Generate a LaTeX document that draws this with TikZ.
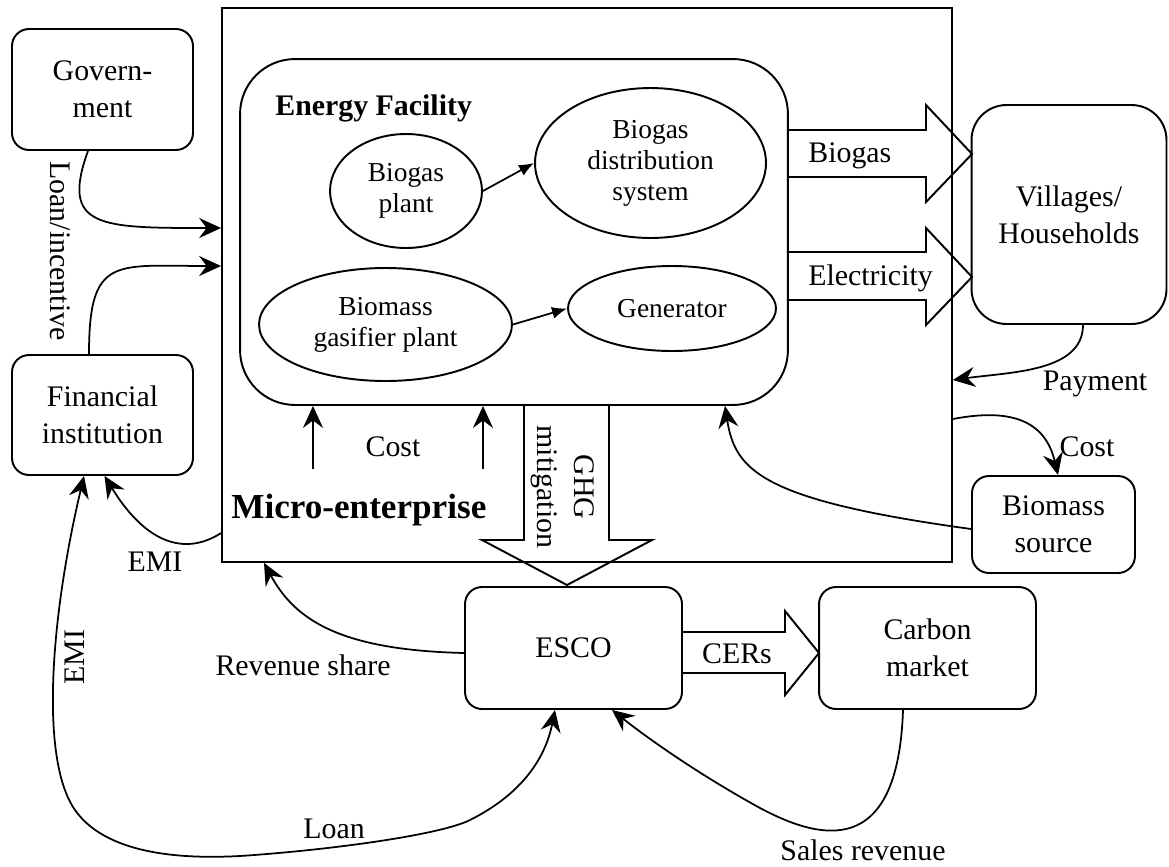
\documentclass[tikz,border=0pt]{standalone}
\usepackage{fontspec}
\setmainfont{Liberation Serif}
\usetikzlibrary{shapes.geometric,arrows.meta,positioning}

\tikzset{
  box/.style={draw, line width=1.1pt, rounded corners=0.34cm, align=center, inner sep=0pt, minimum width=3.62cm, minimum height=2.42cm},
  oval/.style={draw, ellipse, line width=1.1pt, align=center, inner sep=0pt, font=\fontsize{15.6}{17.6}\selectfont},
  flow/.style={line width=1pt, -{Stealth[length=0.44cm, width=0.4cm, inset=0.15cm]}},
  twoway/.style={line width=1pt, {Stealth[length=0.44cm, width=0.4cm, inset=0.15cm]}-{Stealth[length=0.44cm, width=0.4cm, inset=0.15cm]}},
  feed/.style={line width=1pt, -{Latex[length=0.3cm, width=0.24cm]}},
  bigarrow/.style={line width=1.1pt, line join=miter},
  lbl/.style={inner sep=0pt, align=center},
}

\begin{document}
\begin{tikzpicture}[x=0.02cm, y=-0.02cm, font=\fontsize{17}{21}\selectfont]
  \useasboundingbox (0,0) rectangle (1169,866);

  % Micro-enterprise with energy facility inside
  \node[draw, line width=1.1pt, minimum width=14.6cm, minimum height=11.08cm, inner sep=0pt] (micro) at (587,285) {};
  \node[lbl, anchor=base west, font=\fontsize{20}{24}\selectfont\bfseries] (microlbl) at (231,518) {Micro-enterprise};
  \node[draw, line width=1.1pt, rounded corners=1.1cm, minimum width=10.96cm, minimum height=6.92cm, inner sep=0pt] (facility) at (514,232) {};
  \node[lbl, anchor=base west, font=\fontsize{17}{21}\selectfont\bfseries] (faclbl) at (275,115) {Energy Facility};

  \node[oval, minimum width=3.04cm, minimum height=2.28cm] (bplant) at (406,191) {Biogas\\plant};
  \node[oval, minimum width=4.62cm, minimum height=3cm] (bdist) at (650.5,163) {Biogas\\distribution\\system};
  \node[oval, minimum width=5.06cm, minimum height=2.26cm] (bgas) at (385.5,324.5) {Biomass\\gasifier plant};
  \node[oval, minimum width=4.16cm, minimum height=1.7cm] (gen) at (672,308.5) {Generator};
  \draw[feed] (bplant.east) -- (bdist.west);
  \draw[feed] (bgas.east) -- (gen.west);

  % Outside parties
  \node[box] (gov) at (102.5,89.5) {Govern-\\ment};
  \node[box, minimum height=2.4cm] (fin) at (102.5,415) {Financial\\institution};
  \node[box, rounded corners=0.7cm, minimum width=3.9cm, minimum height=4.38cm] (vill) at (1069,214.5) {Villages/\\Households};
  \node[box, minimum width=3.26cm, minimum height=1.94cm] (bsrc) at (1053.5,524.5) {Biomass\\source};
  \node[box, minimum width=4.34cm, minimum height=2.44cm] (esco) at (573.5,648) {ESCO};
  \node[box, minimum width=4.34cm, minimum height=2.44cm] (carbon) at (927.5,648) {Carbon\\market};

  % Block arrows
  \draw[bigarrow] (788,130) -- (926,130) -- (926,105) -- (972,154) -- (926,202) -- (926,177) -- (788,177);
  \node[lbl, anchor=base west] (biogaslbl) at (808,162) {Biogas};
  \draw[bigarrow] (788,252) -- (926,252) -- (926,228) -- (972,277) -- (926,325) -- (926,300) -- (788,300);
  \node[lbl, anchor=base west] (eleclbl) at (808,285) {Electricity};
  \draw[bigarrow] (682,632) -- (785,632) -- (785,611) -- (819,653) -- (785,695) -- (785,673) -- (682,673);
  \node[lbl, anchor=base] (cerlbl) at (737,663) {CERs};
  \draw[bigarrow] (524,405) -- (524,540) -- (482,540) -- (567,585) -- (652,540) -- (609,540) -- (609,405);
  \node[lbl, rotate=-90] (ghglbl) at (563,487) {GHG\\mitigation};

  % Money flows
  \draw[flow] ([shift={(-14.5,0)}]gov.south) .. controls (60,228) and (100,228) .. ([shift={(0,-57)}]micro.west);
  \draw[flow] ([shift={(-13.5,0)}]fin.north) .. controls (89,255) and (115,266) .. ([shift={(0,-19)}]micro.west);
  \node[lbl, rotate=-90] (loaninc) at (60,251) {Loan/incentive};

  \draw[flow] ([shift={(14,0)}]vill.south) .. controls (1083,372) and (1010,372) .. ([shift={(0,95)}]micro.east);
  \node[lbl, anchor=base] (paylbl) at (1095,390) {Payment};
  \draw[flow] ([shift={(0,134)}]micro.east) .. controls (1010,408) and (1045,420) .. ([shift={(4.5,0)}]bsrc.north);
  \node[lbl, anchor=base] (cost1lbl) at (1087,456) {Cost};
  \draw[flow] ([shift={(0,4.5)}]bsrc.west) .. controls (760,500) and (735,470) .. ([shift={(211,0)}]facility.south);

  \coordinate (costa) at (313,469);
  \coordinate (costb) at (483,469);
  \draw[flow] (costa) -- (costa |- facility.south);
  \draw[flow] (costb) -- (costb |- facility.south);
  \node[lbl, anchor=base] (cost2lbl) at (393,456) {Cost};

  \draw[flow] ([shift={(0,5)}]esco.west) .. controls (340,650) and (295,620) .. ([shift={(-323,0)}]micro.south);
  \node[lbl, anchor=base] (revlbl) at (303,675) {Revenue share};
  \draw[flow] ([shift={(0,248)}]micro.west) .. controls (190,553) and (150,550) .. ([shift={(2,0)}]fin.south);
  \node[lbl, anchor=base] (emilbl) at (155,571) {EMI};

  \draw[twoway] ([shift={(-18.5,0)}]fin.south) .. controls (50,620) and (40,760) .. (75,810)
    .. controls (110,860) and (200,858) .. (240,856) .. controls (330,850) and (440,835) .. (470,820)
    .. controls (520,795) and (545,760) .. ([shift={(-18.5,0)}]esco.south);
  \node[lbl, rotate=90] (emiloop) at (75,657) {EMI};
  \node[lbl, anchor=base] (loanlbl) at (334,838) {Loan};

  \draw[flow] ([shift={(-24.5,0)}]carbon.south) .. controls (898,860) and (820,840) .. (760,808)
    .. controls (700,775) and (650,740) .. ([shift={(38.5,0)}]esco.south);
  \node[lbl, anchor=base] (saleslbl) at (863,860) {Sales revenue};
\end{tikzpicture}
\end{document}
